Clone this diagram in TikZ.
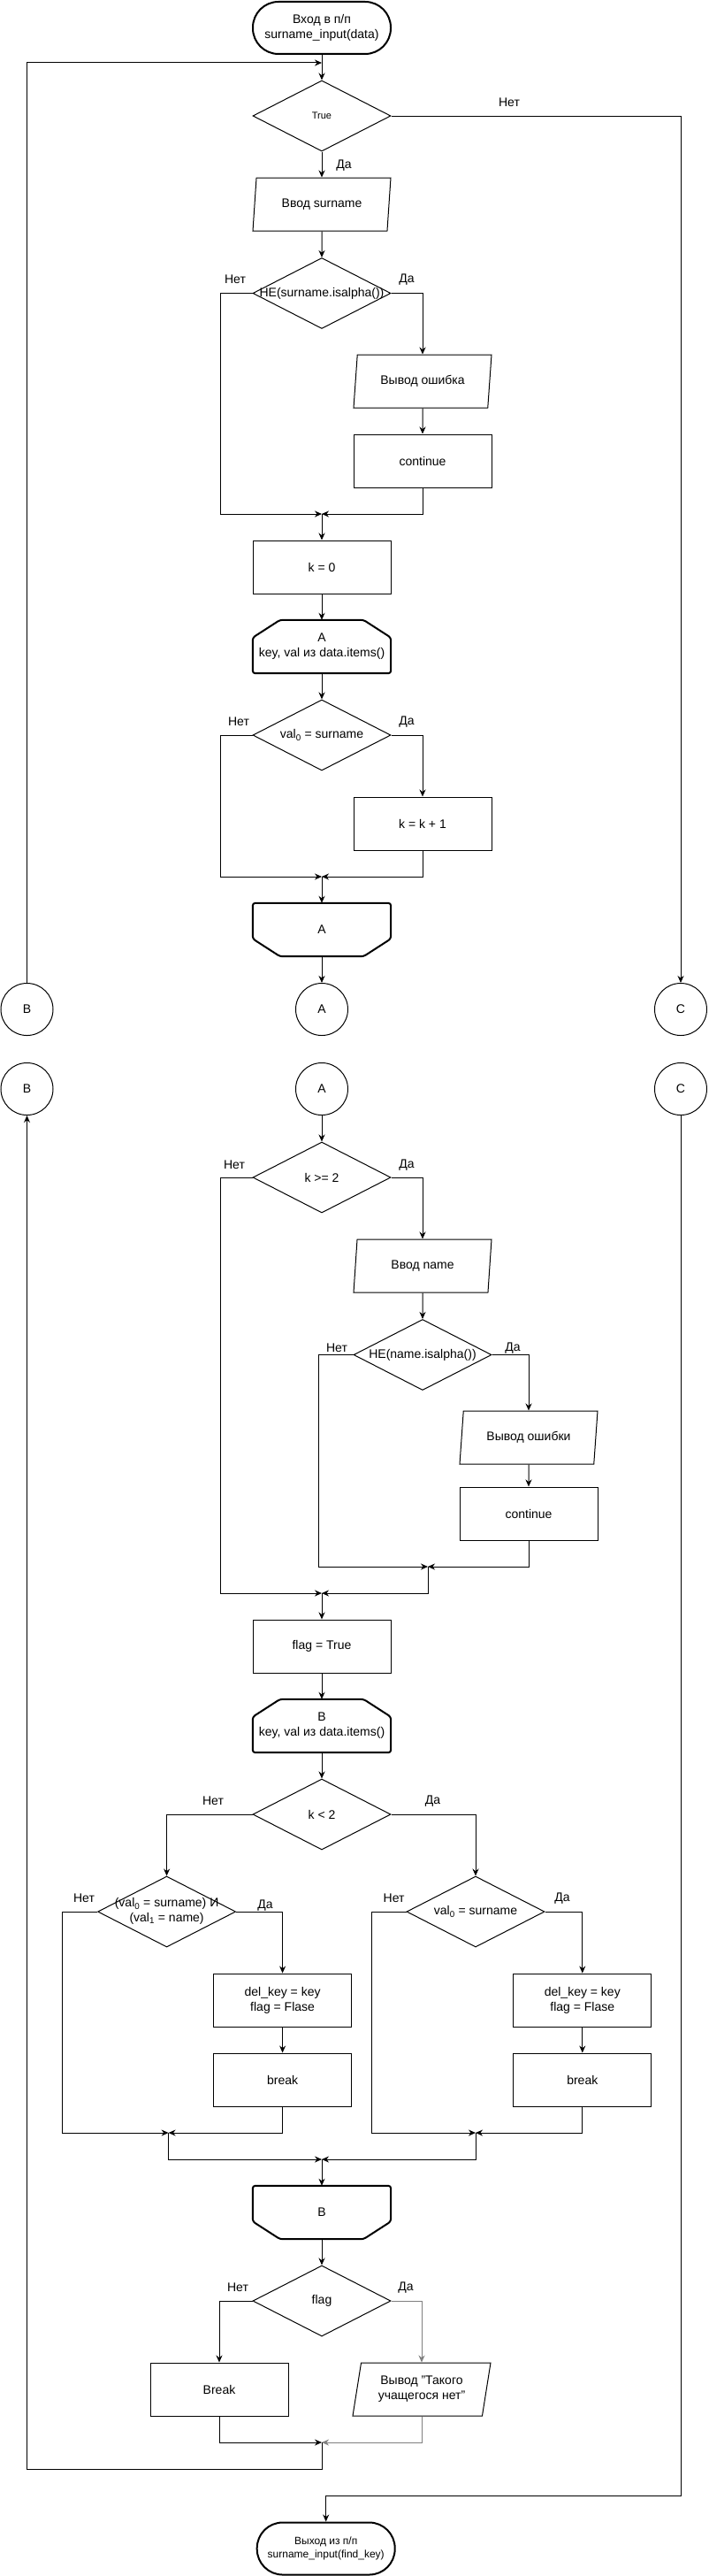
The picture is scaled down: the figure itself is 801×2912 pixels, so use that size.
\documentclass[tikz,border=0pt]{standalone}
\usepackage{fontspec}
\setmainfont{Liberation Sans}
\usetikzlibrary{shapes.geometric,arrows.meta}
\tikzset{
 every node/.style={font=\fontsize{14pt}{16.8pt}\selectfont},
 proc/.style={draw, rectangle, minimum width=156pt, minimum height=60pt, inner sep=0pt, align=center, line width=1pt},
 dec/.style={draw, diamond, minimum width=156pt, minimum height=80pt, inner sep=0pt, line width=1pt, align=center},
 io/.style={draw, trapezium, trapezium left angle=72, trapezium right angle=108, trapezium stretches body, minimum width=156pt, minimum height=60pt, inner sep=0pt, align=center, line width=1pt},
 term/.style={draw, rectangle, rounded corners=29pt, minimum width=156pt, minimum height=59pt, line width=2pt, align=center, inner sep=0pt},
 loopbox/.style={rectangle, minimum width=156pt, minimum height=60pt, inner sep=0pt, align=center},
 loopline/.style={line width=2pt, rounded corners=3pt},
 conn/.style={draw, circle, minimum size=59pt, inner sep=0pt, line width=1pt},
 arr/.style={-{Stealth[length=8pt,width=7pt]}, line width=1pt},
 lab/.style={inner sep=0pt},
}
\newcommand\loopstartshape[1]{\draw[loopline] (#1.south west) -- ([yshift=-20pt]#1.north west) -- ([xshift=31pt]#1.north west) -- ([xshift=-31pt]#1.north east) -- ([yshift=-20pt]#1.north east) -- (#1.south east) -- cycle;}
\newcommand\loopendshape[1]{\draw[loopline] (#1.north west) -- ([yshift=20pt]#1.south west) -- ([xshift=31pt]#1.south west) -- ([xshift=-31pt]#1.south east) -- ([yshift=20pt]#1.south east) -- (#1.north east) -- cycle;}
\begin{document}
\begin{tikzpicture}[x=1pt,y=-1pt]
\useasboundingbox (0,0) rectangle (801,2912);
% ---------- part 1 ----------
\node[term] (start) at (364,31.5) {Вход в п/п\\surname\_input(data)};
\coordinate (L1) at (364,71);
\node[dec] (d1) at (364,131) {\makebox[0pt]{\fontsize{11pt}{13pt}\selectfont True}};
\node[io] (io1) at (364,231) {Ввод surname};
\node[dec] (d2) at (364,331.5) {\makebox[0pt]{НЕ(surname.isalpha())}};
\node[io] (io2) at (478,431) {Вывод ошибка};
\node[proc] (p1) at (478,521) {continue};
\coordinate (m1) at (364,581);
\node[proc] (p2) at (364,641) {k = 0};
\node[loopbox] (lA1) at (364,731) {A\\key, val из data.items()};
\loopstartshape{lA1}
\node[dec] (d3) at (364,831) {\makebox[0pt]{val\textsubscript{0} = surname}};
\node[proc] (p3) at (478,931) {k = k + 1};
\coordinate (m2) at (364,991);
\node[loopbox] (lA2) at (364,1051) {A};
\loopendshape{lA2}
\node[conn] (cA1) at (364,1141) {A};
\node[conn] (cB1) at (30.5,1141) {B};
\node[conn] (cC1) at (770,1141) {C};
% labels part 1
\node[lab] (t1) at (389,187) {Да};
\node[lab] (t2) at (576,116) {Нет};
\node[lab] (t3) at (266,316) {Нет};
\node[lab] (t4) at (460,316) {Да};
\node[lab] (t5) at (270,816) {Нет};
\node[lab] (t6) at (460,816) {Да};
% connectors part 1
\draw[arr] (start) -- (d1);
\draw[arr] (cB1.north) |- (L1);
\draw[arr] (d1) -- (io1);
\draw[arr] (d1.east) -| (cC1.north);
\draw[arr] (io1) -- (d2);
\draw[arr] (d2.west) -- ++(-35.6,0) |- (m1);
\draw[arr] (d2.east) -| (io2.north);
\draw[arr] (io2) -- (p1);
\draw[arr] (p1.south) |- (m1);
\draw[arr] (m1) -- (p2);
\draw[arr] (p2) -- (lA1);
\draw[arr] (lA1) -- (d3);
\draw[arr] (d3.west) -- ++(-35.6,0) |- (m2);
\draw[arr] (d3.east) -| (p3.north);
\draw[arr] (p3.south) |- (m2);
\draw[arr] (m2) -- (lA2);
\draw[arr] (lA2) -- (cA1);
% ---------- part 2 ----------
\node[conn] (cB2) at (30.5,1231) {B};
\node[conn] (cA2) at (364,1231) {A};
\node[conn] (cC2) at (770,1231) {C};
\node[dec] (d4) at (364,1331) {\makebox[0pt]{k >= 2}};
\node[io] (io3) at (478,1431) {Ввод name};
\node[dec] (d5) at (478,1531.5) {\makebox[0pt]{НЕ(name.isalpha())}};
\node[io] (io4) at (598,1625) {Вывод ошибки};
\node[proc] (p4) at (598,1711) {continue};
\coordinate (m3) at (484,1771);
\coordinate (m4) at (364,1801);
\node[proc] (p5) at (364,1861) {flag = True};
\node[loopbox] (lB1) at (364,1951) {B\\key, val из data.items()};
\loopstartshape{lB1}
\node[dec] (d6) at (364,2051) {\makebox[0pt]{k < 2}};
\node[dec] (d7) at (188.6,2161) {\makebox[0pt]{\begin{tabular}{@{}c@{}}(val\textsubscript{0} = surname) И\\(val\textsubscript{1} = name)\end{tabular}}};
\node[dec] (d8) at (538,2161) {\makebox[0pt]{val\textsubscript{0} = surname}};
\node[proc] (p6) at (319.6,2261) {del\_key = key\\flag = Flase};
\node[proc] (p7) at (319.6,2351) {break};
\node[proc] (p8) at (658.8,2261) {del\_key = key\\flag = Flase};
\node[proc] (p9) at (658.8,2351) {break};
\coordinate (m5) at (190.6,2411);
\coordinate (m6) at (538,2411);
\coordinate (m7) at (364,2441);
\node[loopbox] (lB2) at (364,2501) {B};
\loopendshape{lB2}
\node[dec] (d9) at (364,2601) {\makebox[0pt]{flag}};
\node[proc] (p10) at (248,2701) {Break};
\node[io] (io5) at (477,2701) {Вывод "Такого\\учащегося нет"};
\coordinate (m8) at (364,2761);
\coordinate (cx) at (368.7,2821);
\node[term, font=\fontsize{12pt}{15pt}\selectfont] (fin) at (368.7,2881) {Выход из п/п\\surname\_input(find\_key)};
% labels part 2
\node[lab] (t7) at (265,1317) {Нет};
\node[lab] (t8) at (460,1317) {Да};
\node[lab] (t9) at (381,1524) {Нет};
\node[lab] (t10) at (580,1524) {Да};
\node[lab] (t11) at (241,2036) {Нет};
\node[lab] (t12) at (489.5,2036) {Да};
\node[lab] (t13) at (95,2146) {Нет};
\node[lab] (t14) at (300,2154) {Да};
\node[lab] (t15) at (445.6,2146) {Нет};
\node[lab] (t16) at (636,2146) {Да};
\node[lab] (t17) at (269,2586) {Нет};
\node[lab] (t18) at (459,2586) {Да};
% connectors part 2
\draw[arr] (cA2) -- (d4);
\draw[arr] (d4.west) -- ++(-35.6,0) |- (m4);
\draw[arr] (d4.east) -| (io3.north);
\draw[arr] (io3) -- (d5);
\draw[arr] (d5.west) -- ++(-39,0) |- (m3);
\draw[arr] (d5.east) -| (io4.north);
\draw[arr] (io4) -- (p4);
\draw[arr] (p4.south) |- (m3);
\draw[arr] (m3) |- (m4);
\draw[arr] (m4) -- (p5);
\draw[arr] (p5) -- (lB1);
\draw[arr] (lB1) -- (d6);
\draw[arr] (d6.west) -| (d7.north);
\draw[arr] (d6.east) -| (d8.north);
\draw[arr] (d7.west) -- ++(-39.5,0) |- (m5);
\draw[arr] (d7.east) -| (p6.north);
\draw[arr] (p6) -- (p7);
\draw[arr] (p7.south) |- (m5);
\draw[arr] (d8.west) -- ++(-39.5,0) |- (m6);
\draw[arr] (d8.east) -| (p8.north);
\draw[arr] (p8) -- (p9);
\draw[arr] (p9.south) |- (m6);
\draw[arr] (m5) |- (m7);
\draw[arr] (m6) |- (m7);
\draw[arr] (m7) -- (lB2);
\draw[arr] (lB2) -- (d9);
\draw[arr] (d9.west) -| (p10.north);
\draw[arr, draw=gray] (d9.east) -| (io5.north);
\draw[arr] (p10.south) |- (m8);
\draw[arr, draw=gray] (io5.south) |- (m8);
\draw[arr] (m8) -- ++(0,30) -| (cB2.south);
\draw[arr] (cC2.south) |- (cx) -- (fin.north);
\end{tikzpicture}
\end{document}
